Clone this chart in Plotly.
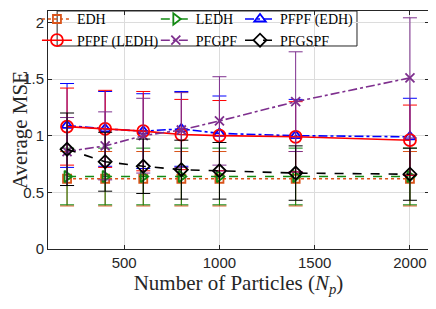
import plotly.graph_objects as go

particles = [200, 400, 600, 800, 1000, 1400, 2000]

edh_mean = [0.62, 0.62, 0.62, 0.62, 0.62, 0.62, 0.62]
edh_err = [0.24, 0.24, 0.24, 0.24, 0.24, 0.24, 0.24]

ledh_mean = [0.64, 0.64, 0.64, 0.64, 0.64, 0.64, 0.64]
ledh_err = [0.25, 0.25, 0.25, 0.25, 0.25, 0.25, 0.25]

pfpf_edh_mean = [1.09, 1.06, 1.04, 1.06, 1.02, 1.00, 0.99]
pfpf_edh_err = [0.37, 0.33, 0.33, 0.33, 0.33, 0.32, 0.34]

pfpf_ledh_mean = [1.08, 1.06, 1.04, 1.01, 1.00, 0.99, 0.96]
pfpf_ledh_err = [0.34, 0.34, 0.35, 0.31, 0.31, 0.31, 0.31]

pfgpf_mean = [0.86, 0.91, 1.00, 1.05, 1.13, 1.30, 1.51]
pfgpf_err = [0.30, 0.30, 0.33, 0.33, 0.39, 0.44, 0.53]

pfgspf_mean = [0.88, 0.77, 0.73, 0.70, 0.69, 0.67, 0.66]
pfgspf_err = [0.32, 0.26, 0.24, 0.26, 0.25, 0.24, 0.23]

x_ticks = [500, 1000, 1500, 2000]
y_ticks = [0, 0.5, 1, 1.5, 2]
y_tick_labels = ["0", "0.5", "1", "1.5", "2"]

series = [
    ("EDH", edh_mean, edh_err, "#D95319", "dot", "square-open", 8, "legend"),
    ("LEDH", ledh_mean, ledh_err, "#138A13", "dash", "triangle-right-open", 10, "legend2"),
    ("PFPF (EDH)", pfpf_edh_mean, pfpf_edh_err, "#0000FF", "dashdot", "triangle-up-open", 10, "legend3"),
    ("PFPF (LEDH)", pfpf_ledh_mean, pfpf_ledh_err, "#FF0000", "solid", "circle-open", 12, "legend"),
    ("PFGPF", pfgpf_mean, pfgpf_err, "#7E2F8E", "dashdot", "x-thin-open", 9, "legend2"),
    ("PFGSPF", pfgspf_mean, pfgspf_err, "#000000", "dash", "diamond-open", 10, "legend3"),
]

fig = go.Figure()
for name, mean, err, color, dash, symbol, size, leg in series:
    fig.add_trace(go.Scatter(
        x=particles, y=mean, name=name, mode="lines+markers",
        line=dict(color=color, dash=dash, width=1.6),
        marker=dict(symbol=symbol, size=size, color=color,
                    line=dict(color=color, width=1.8)),
        error_y=dict(type="data", array=err, visible=True,
                     color=color, thickness=1, width=7),
        legend=leg,
    ))

serif = "Liberation Serif"
leg_common = dict(bgcolor="rgba(0,0,0,0)", borderwidth=0,
                  font=dict(family=serif, size=14, color="#000"),
                  xref="paper", yref="paper", xanchor="left", yanchor="top",
                  tracegroupgap=0, itemwidth=30)

fig.update_layout(
    width=428, height=301,
    margin=dict(l=40, r=7, t=3, b=60, autoexpand=False),
    paper_bgcolor="white", plot_bgcolor="white",
    showlegend=True,
    legend=dict(x=-0.029, y=1.032, **leg_common),
    legend2=dict(x=0.283, y=1.032, **leg_common),
    legend3=dict(x=0.504, y=1.032, **leg_common),
    xaxis=dict(range=[100, 2100], tickvals=x_ticks, automargin=False,
               showgrid=True, gridcolor="#DCDCDC", gridwidth=1,
               zeroline=False, showline=True, linecolor="#262626", linewidth=1,
               mirror="ticks", ticks="inside", ticklen=4, tickcolor="#262626",
               tickfont=dict(family="Liberation Sans", size=15, color="#262626"),
               title=dict(text="Number of Particles (<i>N</i><sub><i>p</i></sub>)",
                          font=dict(family=serif, size=21, color="#262626"),
                          standoff=2)),
    yaxis=dict(range=[0, 2.1], tickvals=y_ticks, ticktext=y_tick_labels, automargin=False,
               showgrid=True, gridcolor="#DCDCDC", gridwidth=1,
               zeroline=False, showline=True, linecolor="#262626", linewidth=1,
               mirror="ticks", ticks="inside", ticklen=4, tickcolor="#262626",
               tickfont=dict(family="Liberation Sans", size=15, color="#262626"),
               title=dict(text="Average MSE",
                          font=dict(family=serif, size=21, color="#262626"),
                          standoff=3)),
    shapes=[dict(type="rect", xref="paper", yref="paper",
                 x0=0.024, x1=0.811, y0=0.853, y1=1.0,
                 line=dict(color="#262626", width=1),
                 fillcolor="rgba(255,255,255,1)", layer="below")],
)

fig.write_html("out.html")
